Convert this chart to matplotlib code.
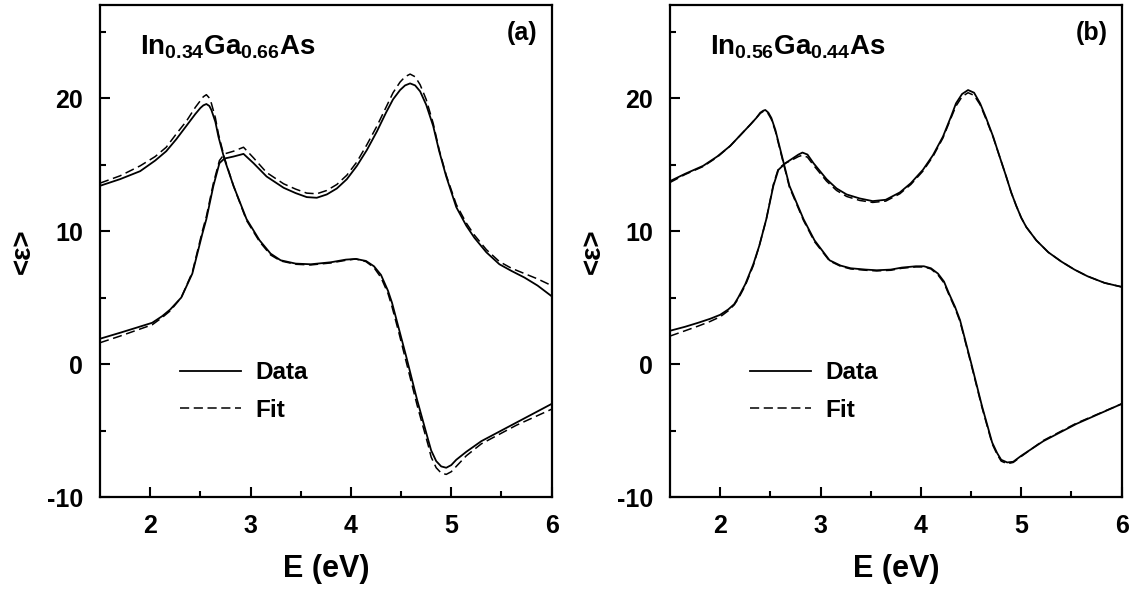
import matplotlib
matplotlib.use('Agg')
import matplotlib.pyplot as plt

plt.rcParams['font.family'] = 'Liberation Sans'
plt.rcParams['font.weight'] = 'bold'
plt.rcParams['mathtext.fontset'] = 'custom'
plt.rcParams['mathtext.bf'] = 'Liberation Sans:bold'
plt.rcParams['mathtext.rm'] = 'Liberation Sans:bold'
plt.rcParams['axes.unicode_minus'] = False

# ---- panel (a) In0.34Ga0.66As ----
Ea_e1 = [1.5, 1.7, 1.9, 2.05, 2.16, 2.26, 2.36, 2.45, 2.5, 2.53, 2.56, 2.59, 2.61, 2.65, 2.68,
         2.74, 2.83, 2.96, 3.09, 3.2, 3.3, 3.45, 3.6, 3.8, 3.95, 4.05, 4.15, 4.23, 4.3, 4.37,
         4.41, 4.48, 4.55, 4.66, 4.77, 4.8, 4.85, 4.9, 4.95, 5.0, 5.05, 5.15, 5.3, 5.65, 6.0]
a_e1_data = [13.4, 13.9, 14.5, 15.3, 16.0, 16.9, 17.9, 18.8, 19.25, 19.45, 19.55, 19.4, 19.1, 18.2, 17.1,
             15.4, 13.4, 10.9, 9.3, 8.3, 7.8, 7.55, 7.5, 7.65, 7.85, 7.9, 7.75, 7.35, 6.7, 5.5,
             4.6, 2.6, 0.6, -2.7, -5.7, -6.5, -7.3, -7.7, -7.8, -7.6, -7.2, -6.6, -5.8, -4.4, -3.0]
a_e1_fit = [13.6, 14.15, 14.9, 15.6, 16.3, 17.3, 18.25, 19.3, 19.8, 20.1, 20.25, 20.0, 19.6, 18.5, 17.3,
            15.5, 13.4, 10.8, 9.2, 8.2, 7.75, 7.5, 7.45, 7.6, 7.8, 7.9, 7.7, 7.25, 6.5, 5.3,
            4.3, 2.3, 0.2, -3.1, -6.1, -7.0, -7.8, -8.2, -8.3, -8.1, -7.7, -6.9, -6.0, -4.6, -3.4]

Ea_e2 = [1.5, 1.7, 1.85, 2.02, 2.12, 2.2, 2.31, 2.42, 2.52, 2.56, 2.63, 2.69, 2.74, 2.83, 2.93,
         3.03, 3.16, 3.33, 3.45, 3.56, 3.66, 3.76, 3.86, 3.96, 4.06, 4.16, 4.26, 4.35, 4.42, 4.49,
         4.54, 4.59, 4.64, 4.69, 4.75, 4.82, 4.88, 4.95, 5.05, 5.15, 5.23, 5.35, 5.48, 5.6, 5.73,
         5.86, 6.0]
a_e2_data = [1.9, 2.35, 2.7, 3.1, 3.6, 4.1, 5.0, 6.8, 9.8, 10.9, 13.4, 15.1, 15.45, 15.6, 15.8,
             15.1, 14.1, 13.25, 12.85, 12.55, 12.5, 12.75, 13.2, 13.9, 14.9, 16.1, 17.5, 18.9, 19.9, 20.6,
             20.95, 21.1, 20.95, 20.5, 19.5, 17.9, 16.0, 14.1, 11.8, 10.4, 9.5, 8.4, 7.5, 7.0, 6.5,
             5.9, 5.1]
a_e2_fit = [1.6, 2.1, 2.5, 2.95, 3.5, 4.0, 5.0, 6.9, 10.0, 11.1, 13.6, 15.3, 15.8, 16.0, 16.3,
            15.5, 14.4, 13.55, 13.15, 12.85, 12.8, 13.05, 13.5, 14.2, 15.2, 16.5, 17.9, 19.3, 20.4, 21.2,
            21.6, 21.8, 21.6, 21.0, 19.9, 18.1, 16.1, 14.2, 12.0, 10.6, 9.7, 8.6, 7.7, 7.2, 6.8,
            6.4, 5.9]

# ---- panel (b) In0.56Ga0.44As ----
Eb_e1 = [1.5, 1.65, 1.83, 1.97, 2.1, 2.2, 2.3, 2.36, 2.4, 2.43, 2.45, 2.48, 2.51, 2.55, 2.6,
         2.69, 2.83, 2.94, 3.09, 3.2, 3.3, 3.45, 3.56, 3.7, 3.81, 3.95, 4.03, 4.1, 4.17, 4.23,
         4.28, 4.34, 4.39, 4.5, 4.61, 4.71, 4.76, 4.8, 4.86, 4.92, 5.0, 5.1, 5.22, 5.55, 6.0]
b_e1_data = [13.75, 14.3, 14.9, 15.6, 16.4, 17.2, 18.0, 18.5, 18.9, 19.05, 19.1, 18.9, 18.5, 17.6, 16.1,
             13.4, 10.9, 9.3, 7.8, 7.4, 7.2, 7.1, 7.05, 7.1, 7.25, 7.35, 7.35, 7.2, 6.8, 6.2,
             5.3, 4.3, 3.3, 0.1, -3.2, -5.9, -6.7, -7.2, -7.4, -7.35, -6.9, -6.4, -5.8, -4.5, -3.0]
b_e1_fit = [13.65, 14.25, 14.85, 15.55, 16.4, 17.2, 18.0, 18.5, 18.85, 19.0, 19.0, 18.8, 18.4, 17.5, 16.0,
            13.3, 10.8, 9.2, 7.75, 7.35, 7.15, 7.05, 7.0, 7.05, 7.2, 7.3, 7.3, 7.15, 6.7, 6.1,
            5.2, 4.2, 3.2, 0.0, -3.3, -6.0, -6.8, -7.3, -7.5, -7.4, -6.95, -6.4, -5.75, -4.45, -3.0]

Eb_e2 = [1.5, 1.65, 1.78, 1.9, 2.0, 2.08, 2.14, 2.18, 2.25, 2.33, 2.39, 2.46, 2.53, 2.58, 2.65,
         2.73, 2.78, 2.82, 2.87, 2.93, 3.06, 3.16, 3.26, 3.39, 3.52, 3.65, 3.79, 3.9, 4.02, 4.12,
         4.22, 4.3, 4.35, 4.41, 4.47, 4.53, 4.59, 4.65, 4.72, 4.78, 4.85, 4.9, 4.95, 5.0, 5.05,
         5.15, 5.27, 5.4, 5.53, 5.66, 5.83, 6.0]
b_e2_data = [2.5, 2.8, 3.1, 3.4, 3.7, 4.1, 4.5, 5.0, 6.0, 7.5, 8.9, 10.9, 13.4, 14.6, 15.1,
             15.5, 15.75, 15.9, 15.75, 15.1, 13.9, 13.2, 12.75, 12.45, 12.25, 12.35, 12.9, 13.6, 14.6, 15.7,
             17.1, 18.6, 19.6, 20.3, 20.6, 20.4, 19.6, 18.5, 17.1, 15.7, 14.1, 12.9, 11.9, 11.0, 10.3,
             9.3, 8.4, 7.7, 7.1, 6.6, 6.1, 5.8]
b_e2_fit = [2.1, 2.5, 2.85, 3.2, 3.55, 4.0, 4.45, 4.9, 5.9, 7.4, 8.9, 10.9, 13.5, 14.7, 15.1,
            15.4, 15.6, 15.7, 15.55, 14.95, 13.75, 13.05, 12.6, 12.3, 12.15, 12.25, 12.8, 13.5, 14.5, 15.6,
            17.0, 18.5, 19.4, 20.1, 20.4, 20.2, 19.5, 18.4, 17.05, 15.7, 14.1, 12.9, 11.9, 11.0, 10.3,
            9.3, 8.4, 7.7, 7.1, 6.6, 6.1, 5.8]

panels = [
    ('a', r'$\mathbf{In_{0.34}Ga_{0.66}As}$', Ea_e1, a_e1_data, a_e1_fit, Ea_e2, a_e2_data, a_e2_fit),
    ('b', r'$\mathbf{In_{0.56}Ga_{0.44}As}$', Eb_e1, b_e1_data, b_e1_fit, Eb_e2, b_e2_data, b_e2_fit),
]

fig = plt.figure(figsize=(11.29, 5.95), dpi=100)
lefts = [100 / 1129, 670 / 1129]

for left, (tag, formula, E1, d1, f1, E2, d2, f2) in zip(lefts, panels):
    ax = fig.add_axes([left, 0.1647, 0.400, 0.827])
    ax.plot(E1, d1, color='black', lw=1.3, label='Data')
    ax.plot(E1, f1, color='black', lw=1.1, dashes=(6, 3), label='Fit')
    ax.plot(E2, d2, color='black', lw=1.3)
    ax.plot(E2, f2, color='black', lw=1.1, dashes=(6, 3))

    ax.set_xlim(1.5, 6)
    ax.set_ylim(-10, 27)
    ax.set_xticks([2, 3, 4, 5, 6])
    ax.set_xticks([2.5, 3.5, 4.5, 5.5], minor=True)
    ax.set_yticks([-10, 0, 10, 20])
    ax.set_yticks([-5, 5, 15, 25], minor=True)
    ax.tick_params(which='both', direction='in', top=False, right=False, width=1.5)
    ax.tick_params(which='major', length=7, labelsize=18, pad=12)
    ax.tick_params(which='minor', length=4)
    for s in ax.spines.values():
        s.set_linewidth(1.6)

    ax.set_xlabel('E (eV)', fontsize=22, fontweight='bold', labelpad=12)
    ax.set_ylabel('<ε>', fontsize=20, fontweight='bold', labelpad=8)

    ax.text(0.088, 0.915, formula, transform=ax.transAxes, fontsize=20, va='center', ha='left')
    ax.text(0.969, 0.943, '(%s)' % tag, transform=ax.transAxes, fontsize=18, fontweight='bold',
            va='center', ha='right')

    ax.legend(loc='upper left', bbox_to_anchor=(0.177, 0.276), frameon=False,
              handlelength=2.5, handletextpad=0.6, labelspacing=0.6, borderpad=0, borderaxespad=0,
              prop={'weight': 'bold', 'size': 17.5})

fig.savefig('out.png', dpi=100)
